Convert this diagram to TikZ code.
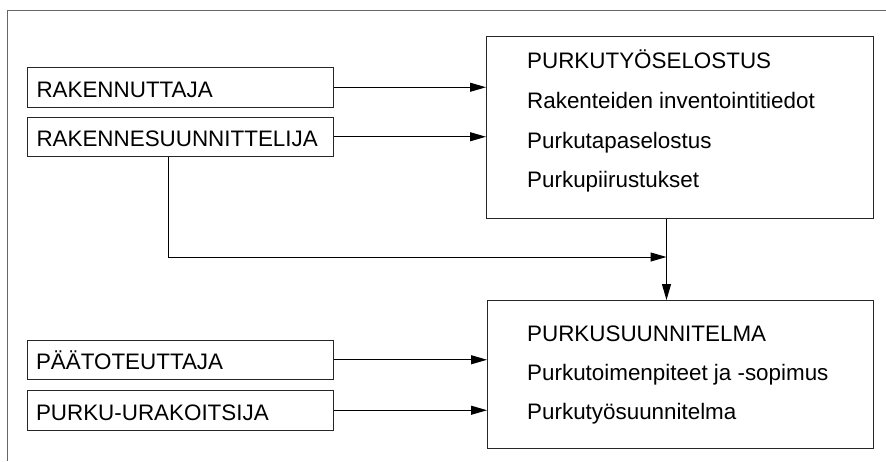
\documentclass[tikz,border=0pt]{standalone}
\usepackage{fontspec}
\setmainfont{Liberation Sans}
\usetikzlibrary{arrows.meta}
\begin{document}
\begin{tikzpicture}[x=1pt, y=-1pt, font=\fontsize{22.4}{26}\selectfont,
  actor/.style={draw=black!85, line width=1pt, anchor=north west, inner xsep=9pt, inner ysep=0pt, text width=288pt, align=left, minimum height=39.5pt, text height=20pt, text depth=0pt},
  doc/.style={draw=black!85, line width=1pt, anchor=north west, inner sep=0pt},
  entry/.style={anchor=base west, inner sep=0pt},
  flow/.style={line width=1pt, -{Triangle[length=16pt,width=9pt]}}]
\useasboundingbox (0,0) rectangle (886,461);
\draw[black!60, line width=1pt] (7.5,461) -- (7.5,10.5) -- (886,10.5);
\node[actor] (rakennuttaja) at (27,67) {RAKENNUTTAJA};
\node[actor] (rakennesuunnittelija) at (27,116.5) {RAKENNESUUNNITTELIJA};
\node[actor] (paatoteuttaja) at (26.5,339.5) {PÄÄTOTEUTTAJA};
\node[actor] (urakoitsija) at (26.5,390) {PURKU-URAKOITSIJA};
\node[doc, minimum width=387pt, minimum height=182pt] (selostus) at (486,36) {};
\node[doc, minimum width=386pt, minimum height=148pt] (suunnitelma) at (487,300) {};
\node[entry] (selostus0) at (527,68) {PURKUTYÖSELOSTUS};
\node[entry] (selostus1) at (527,108) {Rakenteiden inventointitiedot};
\node[entry] (selostus2) at (527,148) {Purkutapaselostus};
\node[entry] (selostus3) at (527,187) {Purkupiirustukset};
\node[entry] (suunnitelma0) at (527,341) {PURKUSUUNNITELMA};
\node[entry] (suunnitelma1) at (527,380) {Purkutoimenpiteet ja -sopimus};
\node[entry] (suunnitelma2) at (527,419) {Purkutyösuunnitelma};
\coordinate (kulma) at (168.5,257);
\coordinate (risteys) at (666.5,257);
\draw[flow] (rakennuttaja) -- (rakennuttaja -| selostus.west);
\draw[flow] (rakennesuunnittelija) -- (rakennesuunnittelija -| selostus.west);
\draw[flow] (rakennesuunnittelija.south -| kulma) |- (risteys);
\draw[flow] (selostus.south -| risteys) -- (suunnitelma.north -| risteys);
\draw[flow] (paatoteuttaja) -- (paatoteuttaja -| suunnitelma.west);
\draw[flow] (urakoitsija) -- (urakoitsija -| suunnitelma.west);
\end{tikzpicture}
\end{document}
